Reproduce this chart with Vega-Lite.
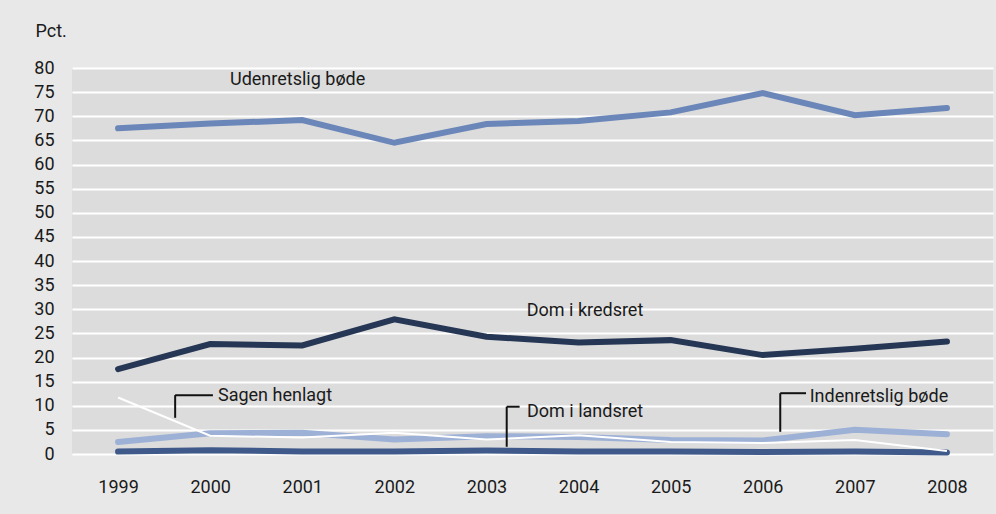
{
  "$schema": "https://vega.github.io/schema/vega-lite/v6.json",
  "width": 921,
  "height": 386,
  "autosize": {"type": "none"},
  "padding": {"left": 72, "top": 68, "right": 3, "bottom": 60},
  "background": "#e8e8e8",
  "config": {
    "view": {"fill": "#dcdcdc", "stroke": null},
    "font": "Roboto",
    "axis": {"labelFont": "Roboto", "titleFont": "Roboto"},
    "text": {"font": "Roboto"}
  },
  "datasets": {
    "series": [
      {"year": 1999, "series": "Udenretslig bøde", "value": 67.5},
      {"year": 2000, "series": "Udenretslig bøde", "value": 68.5},
      {"year": 2001, "series": "Udenretslig bøde", "value": 69.2},
      {"year": 2002, "series": "Udenretslig bøde", "value": 64.5},
      {"year": 2003, "series": "Udenretslig bøde", "value": 68.4},
      {"year": 2004, "series": "Udenretslig bøde", "value": 69.0},
      {"year": 2005, "series": "Udenretslig bøde", "value": 70.8},
      {"year": 2006, "series": "Udenretslig bøde", "value": 74.8},
      {"year": 2007, "series": "Udenretslig bøde", "value": 70.2},
      {"year": 2008, "series": "Udenretslig bøde", "value": 71.7},
      {"year": 1999, "series": "Dom i kredsret", "value": 17.6},
      {"year": 2000, "series": "Dom i kredsret", "value": 22.8},
      {"year": 2001, "series": "Dom i kredsret", "value": 22.5},
      {"year": 2002, "series": "Dom i kredsret", "value": 27.9},
      {"year": 2003, "series": "Dom i kredsret", "value": 24.3},
      {"year": 2004, "series": "Dom i kredsret", "value": 23.1},
      {"year": 2005, "series": "Dom i kredsret", "value": 23.6},
      {"year": 2006, "series": "Dom i kredsret", "value": 20.5},
      {"year": 2007, "series": "Dom i kredsret", "value": 21.8},
      {"year": 2008, "series": "Dom i kredsret", "value": 23.3},
      {"year": 1999, "series": "Indenretslig bøde", "value": 2.5},
      {"year": 2000, "series": "Indenretslig bøde", "value": 4.3},
      {"year": 2001, "series": "Indenretslig bøde", "value": 4.4},
      {"year": 2002, "series": "Indenretslig bøde", "value": 3.0},
      {"year": 2003, "series": "Indenretslig bøde", "value": 3.7},
      {"year": 2004, "series": "Indenretslig bøde", "value": 3.5},
      {"year": 2005, "series": "Indenretslig bøde", "value": 2.9},
      {"year": 2006, "series": "Indenretslig bøde", "value": 2.8},
      {"year": 2007, "series": "Indenretslig bøde", "value": 5.0},
      {"year": 2008, "series": "Indenretslig bøde", "value": 4.1},
      {"year": 1999, "series": "Dom i landsret", "value": 0.5},
      {"year": 2000, "series": "Dom i landsret", "value": 0.8},
      {"year": 2001, "series": "Dom i landsret", "value": 0.5},
      {"year": 2002, "series": "Dom i landsret", "value": 0.5},
      {"year": 2003, "series": "Dom i landsret", "value": 0.7},
      {"year": 2004, "series": "Dom i landsret", "value": 0.5},
      {"year": 2005, "series": "Dom i landsret", "value": 0.5},
      {"year": 2006, "series": "Dom i landsret", "value": 0.4},
      {"year": 2007, "series": "Dom i landsret", "value": 0.5},
      {"year": 2008, "series": "Dom i landsret", "value": 0.3},
      {"year": 1999, "series": "Sagen henlagt", "value": 11.7},
      {"year": 2000, "series": "Sagen henlagt", "value": 3.8},
      {"year": 2001, "series": "Sagen henlagt", "value": 3.4},
      {"year": 2002, "series": "Sagen henlagt", "value": 4.4},
      {"year": 2003, "series": "Sagen henlagt", "value": 3.0},
      {"year": 2004, "series": "Sagen henlagt", "value": 3.9},
      {"year": 2005, "series": "Sagen henlagt", "value": 2.5},
      {"year": 2006, "series": "Sagen henlagt", "value": 2.3},
      {"year": 2007, "series": "Sagen henlagt", "value": 2.9},
      {"year": 2008, "series": "Sagen henlagt", "value": 0.6}
    ],
    "labels": [
      {"text": "Udenretslig bøde", "year": 2000.95, "value": 77.5, "align": "center"},
      {"text": "Dom i kredsret", "year": 2004.07, "value": 29.6, "align": "center"},
      {"text": "Sagen henlagt", "year": 2000.085, "value": 12.0, "align": "left"},
      {"text": "Dom i landsret", "year": 2003.44, "value": 8.8, "align": "left"},
      {"text": "Indenretslig bøde", "year": 2006.51, "value": 11.9, "align": "left"}
    ],
    "leaders": [
      {"year": 1999.62, "value": 12.2, "year2": 1999.62, "value2": 7.5},
      {"year": 1999.62, "value": 12.2, "year2": 2000.03, "value2": 12.2},
      {"year": 2003.22, "value": 9.8, "year2": 2003.22, "value2": 1.5},
      {"year": 2003.22, "value": 9.8, "year2": 2003.36, "value2": 9.8},
      {"year": 2006.19, "value": 12.6, "year2": 2006.19, "value2": 4.6},
      {"year": 2006.19, "value": 12.6, "year2": 2006.47, "value2": 12.6}
    ]
  },
  "encoding": {
    "x": {
      "field": "year", "type": "quantitative",
      "scale": {"domain": [1998.5, 2008.5], "nice": false, "zero": false},
      "axis": {
        "values": [1999, 2000, 2001, 2002, 2003, 2004, 2005, 2006, 2007, 2008],
        "format": "d", "title": null, "grid": false, "domain": false,
        "ticks": false, "tickSize": 0, "labelPadding": 24, "labelOverlap": false,
        "labelFontSize": 18, "labelColor": "#1a1a1a"
      }
    },
    "y": {
      "field": "value", "type": "quantitative",
      "scale": {"domain": [0, 80], "nice": false},
      "axis": {
        "values": [0, 5, 10, 15, 20, 25, 30, 35, 40, 45, 50, 55, 60, 65, 70, 75, 80],
        "title": "Pct.", "titleAngle": 0, "titleAlign": "left", "titleBaseline": "alphabetic",
        "titleX": -37, "titleY": -32, "titleFontSize": 18, "titleFontWeight": "normal", "titleColor": "#1a1a1a",
        "grid": true, "gridColor": "#ffffff", "gridWidth": 2, "gridOpacity": 1,
        "domain": false, "ticks": false, "tickSize": 0, "labelPadding": 18, "labelOverlap": false,
        "labelFontSize": 18, "labelColor": "#1a1a1a"
      }
    }
  },
  "layer": [
    {
      "data": {"name": "series"},
      "transform": [{"filter": "datum.series !== 'Sagen henlagt'"}],
      "mark": {"type": "line", "strokeCap": "round", "strokeJoin": "miter", "strokeWidth": 6},
      "encoding": {
        "color": {
          "field": "series", "type": "nominal", "legend": null,
          "scale": {
            "domain": ["Udenretslig bøde", "Dom i kredsret", "Indenretslig bøde", "Dom i landsret"],
            "range": ["#6b86b8", "#263755", "#9db0d6", "#3f5a8a"]
          }
        }
      }
    },
    {
      "data": {"name": "series"},
      "transform": [{"filter": "datum.series === 'Sagen henlagt'"}],
      "mark": {"type": "line", "strokeWidth": 2, "color": "#ffffff"},
      "encoding": {}
    },
    {
      "data": {"name": "leaders"},
      "mark": {"type": "rule", "color": "#111111", "strokeWidth": 2},
      "encoding": {
        "x2": {"field": "year2"},
        "y2": {"field": "value2"}
      }
    },
    {
      "data": {"name": "labels"},
      "transform": [{"filter": "datum.align === 'center'"}],
      "mark": {"type": "text", "fontSize": 18, "baseline": "middle", "align": "center", "color": "#1a1a1a"},
      "encoding": {
        "text": {"field": "text"}
      }
    },
    {
      "data": {"name": "labels"},
      "transform": [{"filter": "datum.align === 'left'"}],
      "mark": {"type": "text", "fontSize": 18, "baseline": "middle", "align": "left", "color": "#1a1a1a"},
      "encoding": {
        "text": {"field": "text"}
      }
    }
  ]
}
